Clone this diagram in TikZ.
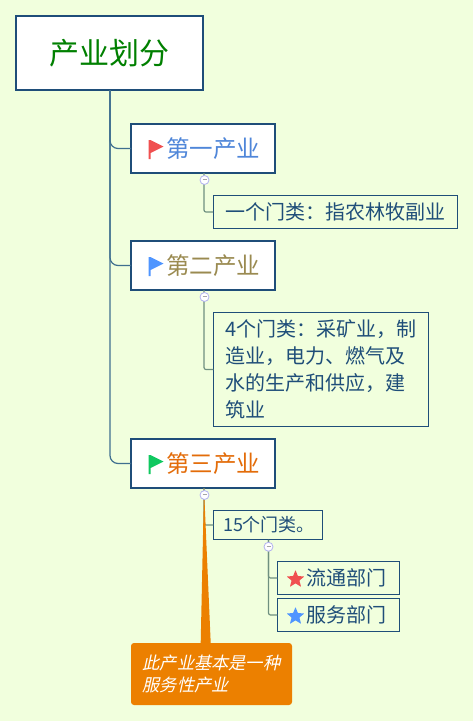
\documentclass[tikz,border=0pt]{standalone}
\usepackage{fontspec}
\setmainfont{Noto Sans CJK SC}
\newfontfamily\slantcjk[FakeSlant=0.22]{Noto Sans CJK SC}
\usetikzlibrary{calc}
\definecolor{bgc}{HTML}{F1FFDD}
\definecolor{edge}{HTML}{1F4E79}
\definecolor{conn}{HTML}{3F6F8F}
\definecolor{subconn}{HTML}{6F9080}
\definecolor{notec}{HTML}{EC8000}
\definecolor{c1}{HTML}{4F86D9}
\definecolor{c2}{HTML}{9A8A50}
\definecolor{c3}{HTML}{E36C09}
\definecolor{rootc}{HTML}{008000}
\definecolor{redi}{HTML}{F05050}
\definecolor{bluei}{HTML}{4F95FF}
\definecolor{greeni}{HTML}{10C860}
\tikzset{
  x=1pt,y=-1pt,
  box/.style={draw=edge,fill=white,line width=2pt,inner sep=0pt,outer sep=0pt,anchor=center},
  rootbox/.style={box,minimum width=187pt,minimum height=74pt,text=rootc,font=\fontsize{30}{33}\selectfont},
  mainbox/.style={box,minimum width=144pt,minimum height=49pt,font=\fontsize{23.5}{26}\selectfont},
  leaf/.style={draw=edge,line width=1pt,inner sep=0pt,outer sep=0pt,text=edge,anchor=center,font=\fontsize{20}{27}\selectfont},
  spine/.style={draw=conn,line width=1.2pt,rounded corners=8pt},
  subline/.style={draw=subconn,line width=1.2pt,rounded corners=2pt},
  btn/.style={circle,draw=black!20!blue!30,fill=white,line width=0.8pt,minimum size=9pt,inner sep=0pt,outer sep=0pt},
  notebox/.style={fill=notec,rounded corners=3pt,text=white,inner sep=0pt,outer sep=0pt,anchor=center,minimum width=161pt,minimum height=62pt,align=left,font=\fontsize{17.2}{22}\selectfont\slantcjk},
}
\newcommand{\btnmark}{\textcolor{gray!70}{\rule[1.2pt]{4pt}{0.7pt}}}
\newcommand{\flagicon}[2]{\fill[#2] (#1) ++(-1.5,-8.5) -- ++(2,0) -- ++(13,6.5) -- ++(-13,6.5) -- ++(0,6) -- ++(-2,0) -- cycle;}
\newcommand{\staricon}[2]{\fill[#2,rounded corners=0.6pt] (#1) ++(0,-9)
  -- ++(2.4,6.1) -- ++(6.5,0.3) -- ++(-5,4.1) -- ++(1.7,6.4) -- ++(-5.6,-3.6)
  -- ++(-5.6,3.6) -- ++(1.7,-6.4) -- ++(-5,-4.1) -- ++(6.5,-0.3) -- cycle;}
\begin{document}
\begin{tikzpicture}
\useasboundingbox (0,0) rectangle (473,721);
\fill[bgc] (0,0) rectangle (473,721);

\node[rootbox] (root) at (109.5,53) {产业划分};
\node[mainbox,text=c1] (b1) at (203,148.5) {\hspace*{20pt}第一产业};
\node[mainbox,text=c2] (b2) at (203,265.5) {\hspace*{20pt}第二产业};
\node[mainbox,text=c3] (b3) at (203,463.5) {\hspace*{20pt}第三产业};

\node[leaf,minimum width=244pt,minimum height=33pt] (l1) at (335,212) {一个门类：指农林牧副业};
\node[leaf,minimum width=215.5pt,minimum height=114.5pt,align=left] (l2) at (321,369.5) {4个门类：采矿业，制\\造业，电力、燃气及\\水的生产和供应，建\\筑业};
\node[leaf,minimum width=109.5pt,minimum height=29.5pt,font=\fontsize{18}{22}\selectfont] (l3) at (268,525) {\hspace*{2pt}15个门类。};
\node[leaf,minimum width=122.5pt,minimum height=33pt] (l4) at (338.5,578) {\hspace*{16pt}流通部门};
\node[leaf,minimum width=122.5pt,minimum height=33pt] (l5) at (338.5,615) {\hspace*{16pt}服务部门};
\node[notebox] (note) at (211.5,674) {此产业基本是一种\\服务性产业};

\draw[spine] ([xshift=0.5pt]root.south) |- (b1.west);
\draw[spine] ([xshift=0.5pt]root.south) |- (b2.west);
\draw[spine] ([xshift=0.5pt]root.south) |- (b3.west);
\draw[subline] ([xshift=1pt]b1.south) |- (l1.west);
\draw[subline] ([xshift=1pt]b2.south) |- (l2.west);
\draw[subline] ([xshift=1pt]b3.south) |- (l3.west);
\draw[subline] (l3.south) ++(0.5,0) coordinate (l3s) |- (l4.west);
\draw[subline] (l3s) |- (l5.west);
\fill[notec] ([xshift=1pt]b3.south) -- ([xshift=69.7pt]note.north west) -- ([xshift=79.7pt]note.north west) -- cycle;

\node[btn] (k1) at ($(b1.south)+(1.5,7)$) {\btnmark};
\node[btn] (k2) at ($(b2.south)+(1.5,7)$) {\btnmark};
\node[btn] (k3) at ($(b3.south)+(1.5,7)$) {\btnmark};
\node[btn] (k4) at ($(l3.south)+(0.5,7)$) {\btnmark};

\flagicon{150,148.5}{redi}
\flagicon{150,265.5}{bluei}
\flagicon{150,463.5}{greeni}
\staricon{295.5,579}{redi}
\staricon{295.5,616}{bluei}
\end{tikzpicture}
\end{document}
